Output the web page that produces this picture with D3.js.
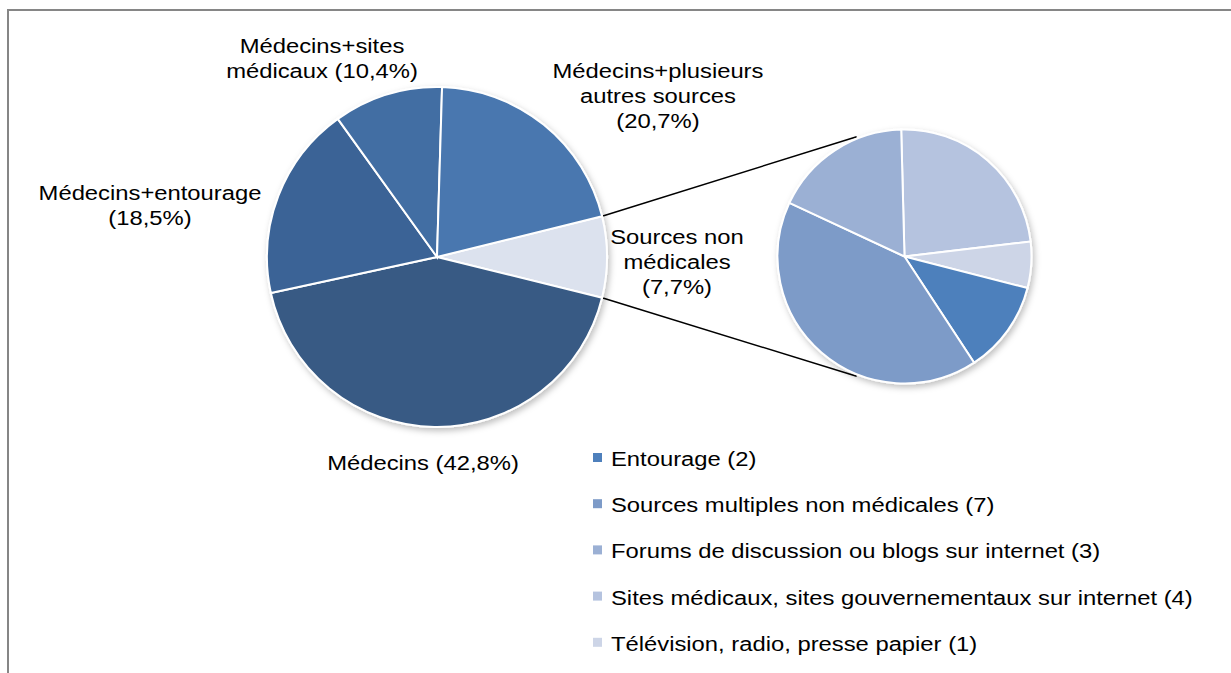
<!DOCTYPE html>
<html>
<head>
<meta charset="utf-8">
<script src="https://cdn.jsdelivr.net/npm/d3@7"></script>
<style>
  body { margin: 0; background: #fff; }
  text { font-family: "Liberation Sans", Arial, sans-serif; font-size: 20px; fill: #000; }
</style>
</head>
<body>
<script>
// main pie data (percent)
var mainLabels = ["Sources non médicales", "Médecins", "Médecins+entourage", "Médecins+sites médicaux", "Médecins+plusieurs autres sources"];
var mainValues = [7.7, 42.8, 18.5, 10.4, 20.7];
var mainColors = ["#dce2ee", "#375a84", "#3b6496", "#436ea3", "#4877af"];
var mainText = [
    ["Sources non", "médicales", "(7,7%)"],
    ["Médecins (42,8%)"],
    ["Médecins+entourage", "(18,5%)"],
    ["Médecins+sites", "médicaux (10,4%)"],
    ["Médecins+plusieurs", "autres sources", "(20,7%)"]
];

// second pie data (counts)
var subLabels = ["Sites médicaux, sites gouvernementaux sur internet", "Télévision, radio, presse papier", "Entourage", "Sources multiples non médicales", "Forums de discussion ou blogs sur internet"];
var subValues = [4, 1, 2, 7, 3];
var subColors = ["#b5c3df", "#cdd5e7", "#4e80bc", "#7d9bc8", "#9bb0d4"];

// legend order
var legendOrder = [2, 3, 4, 0, 1];

var width = 1231, height = 673;
var stretch = 1.19; // text in the original is drawn wider than plain Arial

var svg = d3.select("body").append("svg")
    .attr("width", width)
    .attr("height", height);

var defs = svg.append("defs");
var shadow = defs.append("filter").attr("id", "shadow")
    .attr("x", "-10%").attr("y", "-10%").attr("width", "125%").attr("height", "125%");
shadow.append("feDropShadow")
    .attr("dx", 2).attr("dy", 3).attr("stdDeviation", 3)
    .attr("flood-color", "#000").attr("flood-opacity", 0.25);

// frame
svg.append("path")
    .attr("d", "M8," + height + "V10H" + width)
    .attr("fill", "none")
    .attr("stroke", "#868686")
    .attr("stroke-width", 2);

var cx1 = 437, cy1 = 257, r1 = 170;
var cx2 = 904.5, cy2 = 256.5, r2 = 127;

var total1 = d3.sum(mainValues);
var a0 = Math.PI / 2 - (mainValues[0] / total1) * Math.PI;

var pie1 = d3.pie().sort(null).startAngle(a0).endAngle(a0 + 2 * Math.PI);
var arc1 = d3.arc().innerRadius(0).outerRadius(r1);
var arcs1 = pie1(mainValues);

var pie2 = d3.pie().sort(null).startAngle(-0.026).endAngle(-0.026 + 2 * Math.PI);
var arc2 = d3.arc().innerRadius(0).outerRadius(r2);
var arcs2 = pie2(subValues);

// connector lines
var s = arcs1[0];
function pt(cx, cy, r, a) { return [cx + r * Math.sin(a), cy - r * Math.cos(a)]; }
var p1 = pt(cx1, cy1, r1, s.startAngle), p2 = pt(cx1, cy1, r1, s.endAngle);
var q1 = pt(cx2, cy2, r2 + 2, -0.38), q2 = pt(cx2, cy2, r2 + 2, Math.PI + 0.38);
svg.append("line")
    .attr("x1", p1[0]).attr("y1", p1[1]).attr("x2", q1[0]).attr("y2", q1[1])
    .attr("stroke", "#000").attr("stroke-width", 1.5);
svg.append("line")
    .attr("x1", p2[0]).attr("y1", p2[1]).attr("x2", q2[0]).attr("y2", q2[1])
    .attr("stroke", "#000").attr("stroke-width", 1.5);

var g1 = svg.append("g")
    .attr("transform", "translate(" + cx1 + "," + cy1 + ")")
    .attr("filter", "url(#shadow)");
g1.selectAll("path")
    .data(arcs1)
    .enter().append("path")
    .attr("d", arc1)
    .attr("fill", function (d, i) { return mainColors[i]; })
    .attr("stroke", "#fff")
    .attr("stroke-width", 2);

var g2 = svg.append("g")
    .attr("transform", "translate(" + cx2 + "," + cy2 + ")")
    .attr("filter", "url(#shadow)");
g2.selectAll("path")
    .data(arcs2)
    .enter().append("path")
    .attr("d", arc2)
    .attr("fill", function (d, i) { return subColors[i]; })
    .attr("stroke", "#fff")
    .attr("stroke-width", 2);

// labels for main pie
var labelPos = [[677, 244], [423, 470], [150, 200], [322, 53], [658, 78]];
var lineH = 25;
mainText.forEach(function (lines, i) {
    var t = svg.append("text")
        .attr("text-anchor", "middle")
        .attr("transform", "translate(" + labelPos[i][0] + "," + labelPos[i][1] + ") scale(" + stretch + ",1)");
    lines.forEach(function (l, j) {
        t.append("tspan")
            .attr("x", 0)
            .attr("dy", j === 0 ? 0 : lineH)
            .text(l);
    });
});

// legend
var legend = svg.append("g").attr("transform", "translate(593,453)");
var rows = legend.selectAll("g")
    .data(legendOrder)
    .enter().append("g")
    .attr("transform", function (d, i) { return "translate(0," + (i * 46.2) + ")"; });
rows.append("rect")
    .attr("width", 9).attr("height", 9)
    .attr("fill", function (d) { return subColors[d]; });
rows.append("text")
    .attr("transform", "translate(18,13) scale(" + stretch + ",1)")
    .text(function (d) { return subLabels[d] + " (" + subValues[d] + ")"; });
</script>
</body>
</html>
